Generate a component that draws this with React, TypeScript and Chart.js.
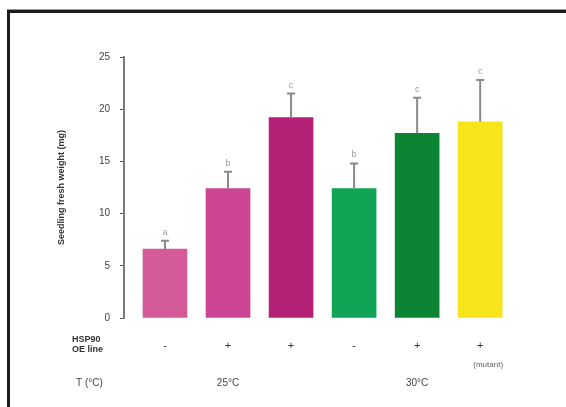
import React, { useEffect, useRef } from "react";
import { Chart, registerables } from "chart.js";

Chart.register(...registerables);

// ---- data ----
const categories = ["c1", "c2", "c3", "c4", "c5", "c6"];
const means = [6.6, 12.4, 19.2, 12.4, 17.7, 18.8];
const errors = [0.8, 1.6, 2.3, 2.4, 3.4, 4.0];
const sigLetters = ["a", "b", "c", "b", "c", "c"];
const barColors = ["#d45a98", "#cc4592", "#b32276", "#10a556", "#0b8434", "#f8e41a"];
const genotypeRowTitle = ["HSP90", "OE line"];
const genotypeMarks = ["-", "+", "+", "-", "+", "+"];
const tempRowTitle = "T (°C)";
const tempGroups = ["25°C", "30°C"];
const tempGroupOfBar = [0, 0, 0, 1, 1, 1];
const barNotes = ["", "", "", "", "", "(mutant)"];
const yTitle = "Seedling fresh weight (mg)";
const yMax = 25;
const yStep = 5;

const FONT = "'Liberation Sans', Arial, sans-serif";

const annotPlugin = {
  id: "annot",
  afterDatasetsDraw(chart: any) {
    const { ctx } = chart;
    const xs = chart.scales.x;
    const ys = chart.scales.y;
    ctx.save();
    means.forEach((m, i) => {
      const x = xs.getPixelForValue(i);
      const yb = ys.getPixelForValue(m);
      const yt = ys.getPixelForValue(m + errors[i]);
      ctx.strokeStyle = "#8a8a8a";
      ctx.lineWidth = 2;
      ctx.beginPath();
      ctx.moveTo(x, yb);
      ctx.lineTo(x, yt);
      ctx.moveTo(x - 4, yt);
      ctx.lineTo(x + 4, yt);
      ctx.stroke();
      ctx.fillStyle = "#9a9a9a";
      ctx.font = `9px ${FONT}`;
      ctx.textAlign = "center";
      ctx.textBaseline = "bottom";
      ctx.fillText(sigLetters[i], x, yt - 4);
    });
    ctx.restore();
  },
  afterDraw(chart: any) {
    const { ctx } = chart;
    const xs = chart.scales.x;
    ctx.save();
    ctx.fillStyle = "#333";
    ctx.font = `bold 9px ${FONT}`;
    ctx.textAlign = "left";
    ctx.textBaseline = "middle";
    ctx.fillText(genotypeRowTitle[0], 72, 340);
    ctx.fillText(genotypeRowTitle[1], 72, 350);
    ctx.font = `11px ${FONT}`;
    ctx.textAlign = "center";
    genotypeMarks.forEach((t, i) => {
      ctx.fillText(t, xs.getPixelForValue(i), 346);
    });
    ctx.font = `8px ${FONT}`;
    ctx.fillStyle = "#666";
    barNotes.forEach((t, i) => {
      if (t) ctx.fillText(t, xs.getPixelForValue(i) + 8, 365);
    });
    ctx.fillStyle = "#444";
    ctx.font = `10px ${FONT}`;
    ctx.textAlign = "left";
    ctx.fillText(tempRowTitle, 76, 383);
    ctx.textAlign = "center";
    tempGroups.forEach((g, gi) => {
      const idx = tempGroupOfBar.map((v, i) => (v === gi ? i : -1)).filter((v) => v >= 0);
      const cx = idx.reduce((s, i) => s + xs.getPixelForValue(i), 0) / idx.length;
      ctx.fillText(g, cx, 383);
    });
    ctx.restore();
  },
};

export default function App() {
  const ref = useRef<HTMLCanvasElement>(null);
  useEffect(() => {
    if (!ref.current) return;
    const chart = new Chart(ref.current, {
      type: "bar",
      data: {
        labels: categories,
        datasets: [
          {
            data: means.map((v, i) => ({ x: i, y: v })),
            backgroundColor: barColors,
            borderWidth: 0,
            barThickness: 44,
          },
        ],
      },
      options: {
        animation: false,
        responsive: false,
        maintainAspectRatio: false,
        layout: { padding: { left: 52, top: 57, right: 48, bottom: 89 } },
        plugins: { legend: { display: false }, tooltip: { enabled: false } },
        scales: {
          x: { type: "linear", min: -0.65, max: 5.6, offset: false, display: false },
          y: {
            min: 0,
            max: yMax,
            afterFit: (s: any) => {
              s.width = 72;
            },
            ticks: {
              stepSize: yStep,
              padding: 10,
              color: "#444",
              font: { family: FONT, size: 10 },
            },
            grid: { drawOnChartArea: false, drawTicks: true, tickLength: 4, color: "#555" },
            border: { color: "#7a7a7a", width: 2 },
            title: {
              display: true,
              text: yTitle,
              color: "#333",
              font: { family: FONT, size: 9, weight: "bold" },
            },
          },
        },
      },
      plugins: [annotPlugin],
    });
    return () => chart.destroy();
  }, []);
  return (
    <div style={{ position: "fixed", left: 0, top: 0, width: 566, height: 407, background: "#fff", overflow: "hidden" }}>
      <div
        style={{
          position: "absolute",
          left: 7,
          top: 10,
          width: 620,
          height: 460,
          border: "3px solid #1c1c1c",
          boxShadow: "0 -1px 0 #999",
        }}
      />
      <canvas ref={ref} width={566} height={407} style={{ position: "absolute", left: 0, top: 0 }} />
    </div>
  );
}
